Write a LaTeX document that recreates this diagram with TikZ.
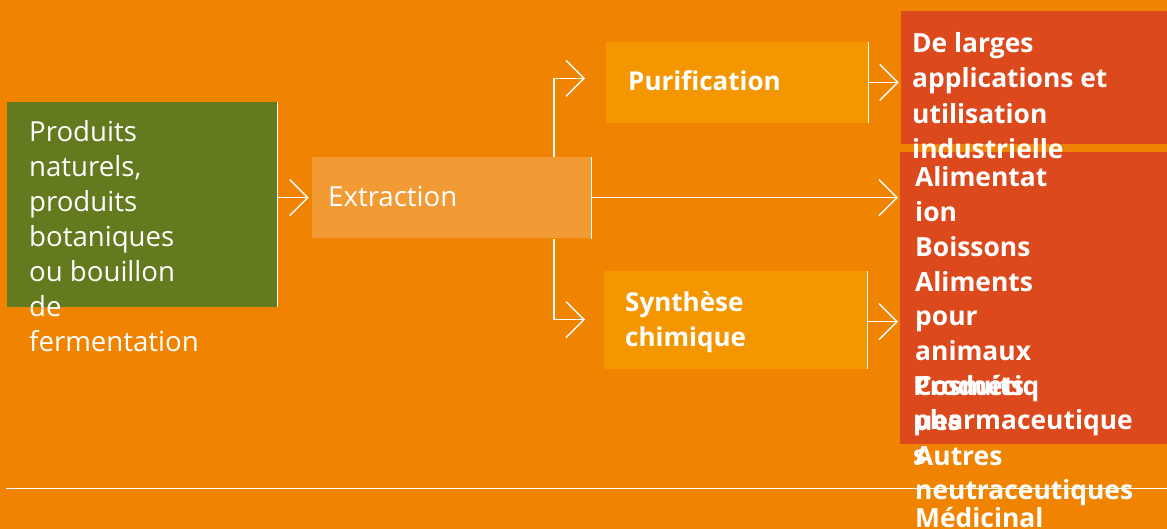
\documentclass[tikz,border=0pt]{standalone}
\usepackage{fontspec}
\setmainfont{Open Sans}
\usetikzlibrary{arrows.meta}
\definecolor{bgorange}{RGB}{240,132,0}
\definecolor{leafgreen}{RGB}{99,122,31}
\definecolor{lightorange}{RGB}{242,155,52}
\definecolor{midorange}{RGB}{243,150,0}
\definecolor{redorange}{RGB}{220,73,28}
\tikzset{
  box/.style={draw=none, inner sep=0pt, anchor=north west},
  edgeline/.style={draw=white, line width=1.2pt},
  conn/.style={draw=white, line width=1.4pt, -{Straight Barb[length=18pt,width=36pt,line width=1.4pt]}},
  regtext/.style={text=white, inner sep=0pt, anchor=base west, font=\fontsize{27.6}{35}\selectfont},
  boldtext/.style={text=white, inner sep=0pt, anchor=base west, font=\fontsize{26}{35}\selectfont\bfseries},
  boldtexta/.style={text=white, inner sep=0pt, anchor=base west, font=\fontsize{26.4}{35.3}\selectfont\bfseries},
  boldtextb/.style={text=white, inner sep=0pt, anchor=base west, font=\fontsize{26.4}{34.8}\selectfont\bfseries},
}
\begin{document}
\begin{tikzpicture}[x=1pt,y=-1pt]
\useasboundingbox (0,0) rectangle (1167,529);
\clip (0,0) rectangle (1167,529);
\fill[bgorange] (0,0) rectangle (1167,529);

% boxes
\node[box, fill=leafgreen, minimum width=269.7pt, minimum height=205pt] (src) at (7,101.7) {};
\node[box, fill=lightorange, minimum width=279pt, minimum height=81.6pt] (ext) at (311.7,156.7) {};
\node[box, fill=midorange, minimum width=262.3pt, minimum height=81pt] (pur) at (606,41.7) {};
\node[box, fill=midorange, minimum width=262.7pt, minimum height=97.6pt] (syn) at (604,270.7) {};
\node[box, fill=redorange, minimum width=266.3pt, minimum height=133pt] (red1) at (900.7,11) {};
\node[box, fill=redorange, minimum width=267pt, minimum height=292pt] (red2) at (900,151.7) {};

% white right edges
\draw[edgeline] (src.north east) -- (src.south east);
\draw[edgeline] (ext.north east) -- (ext.south east);
\draw[edgeline] (pur.north east) -- (pur.south east);
\draw[edgeline] (syn.north east) -- (syn.south east);

% connectors
\draw[conn, shorten >=3pt] (src.east |- ext.west) -- (ext.west);
\draw[conn, shorten >=21pt] ([xshift=242.3pt]ext.north west) |- ([yshift=4pt]pur.west);
\draw[conn, shorten >=19pt] ([xshift=242.3pt]ext.south west) |- (syn.west);
\draw[conn, shorten >=2pt] (ext.east) -- (ext.east -| red2.west);
\draw[conn, shorten >=2pt] (pur.east) -- (pur.east -| red1.west);
\draw[conn, shorten >=2pt] ([yshift=-2pt]syn.east) -- ([yshift=-2pt]syn.east -| red2.west);

% bottom rule
\draw[white, line width=1pt] (6,488.7) -- (1167,488.7);

% texts
\node[regtext] (srct) at (29,141.7) {\parbox[t]{240pt}{\raggedright Produits\\naturels,\\produits\\botaniques\\ou bouillon\\de\\fermentation}};
\node[regtext] (extt) at (328,206.5) {Extraction};
\node[boldtext] (purt) at (628,91) {Purification};
\node[boldtext] (synt) at (625,312) {\parbox[t]{200pt}{\raggedright Synthèse\\chimique}};
\node[boldtexta] (red1t) at (912,52.5) {\parbox[t]{250pt}{\raggedright De larges\\applications et\\utilisation\\industrielle}};
\node[boldtextb] (red2t) at (915,186.7) {\parbox[t]{250pt}{\raggedright Alimentat\\ion\\Boissons\\Aliments\\pour\\animaux\\Cosmétiq\\ues\\Autres\\neutraceutiques}};
\node[boldtextb] (red3t) at (913,395) {\parbox[t]{250pt}{\raggedright Produits\\pharmaceutique\\s}};
\node[boldtexta] (red4t) at (915,527) {Médicinal};
\end{tikzpicture}
\end{document}
